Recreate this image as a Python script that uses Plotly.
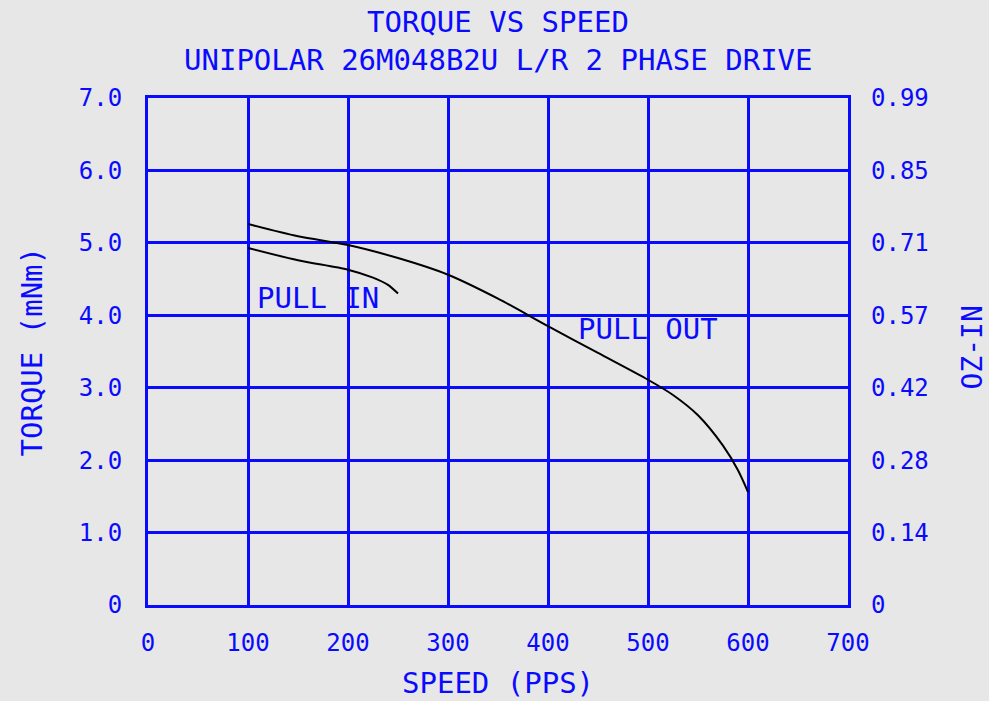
import plotly.graph_objects as go

# Data
pull_out_speed = [100, 150, 200, 250, 300, 350, 400, 450, 500, 525, 550, 575, 590, 600]
pull_out_torque = [5.26, 5.09, 4.97, 4.79, 4.56, 4.23, 3.85, 3.48, 3.11, 2.90, 2.62, 2.20, 1.86, 1.56]

pull_in_speed = [100, 150, 200, 225, 240, 250]
pull_in_torque = [4.93, 4.76, 4.63, 4.52, 4.42, 4.30]

x_ticks = [0, 100, 200, 300, 400, 500, 600, 700]
y_ticks = [0, 1, 2, 3, 4, 5, 6, 7]
y_ticklabels = ["0", "1.0", "2.0", "3.0", "4.0", "5.0", "6.0", "7.0"]
oz_ticklabels = ["0", "0.14", "0.28", "0.42", "0.57", "0.71", "0.85", "0.99"]

BLUE = "#0a0aff"
BG = "#e7e7e7"
FONT = "DejaVu Sans Mono"

fig = go.Figure()
fig.add_trace(go.Scatter(x=pull_out_speed, y=pull_out_torque, mode="lines",
                         line=dict(color="black", width=2, shape="spline", smoothing=0.8),
                         showlegend=False, hoverinfo="skip"))
fig.add_trace(go.Scatter(x=pull_in_speed, y=pull_in_torque, mode="lines",
                         line=dict(color="black", width=2, shape="spline", smoothing=0.8),
                         showlegend=False, hoverinfo="skip"))
# invisible trace to activate the right axis
fig.add_trace(go.Scatter(x=[0], y=[0], yaxis="y2", mode="markers",
                         marker=dict(opacity=0), showlegend=False, hoverinfo="skip"))

txt_font = dict(family=FONT, size=29, color=BLUE)

fig.add_annotation(x=170, y=4.24, text="PULL IN", showarrow=False, font=txt_font)
fig.add_annotation(x=500, y=3.81, text="PULL OUT", showarrow=False, font=txt_font)

fig.add_annotation(x=0.5, y=1, xref="paper", yref="paper", yanchor="middle",
                   xanchor="center", yshift=76,
                   text="TORQUE VS SPEED", showarrow=False, font=txt_font)
fig.add_annotation(x=0.5, y=1, xref="paper", yref="paper", yanchor="middle",
                   xanchor="center", yshift=38,
                   text="UNIPOLAR 26M048B2U L/R 2 PHASE DRIVE", showarrow=False,
                   font=txt_font)

# axis titles
fig.add_annotation(x=0.5, y=0, xref="paper", yref="paper", yanchor="middle",
                   xanchor="center", yshift=-78, text="SPEED (PPS)",
                   showarrow=False, font=txt_font)
fig.add_annotation(x=0, y=0.5, xref="paper", yref="paper", yanchor="middle",
                   xanchor="center", xshift=-117, textangle=-90, text="TORQUE (mNm)",
                   showarrow=False, font=dict(family=FONT, size=29, color=BLUE))
fig.add_annotation(x=1, y=0.5, xref="paper", yref="paper", yanchor="middle",
                   xanchor="center", xshift=124, yshift=4, textangle=-90, text="OZ-IN",
                   showarrow=False, font=dict(family=FONT, size=28, color=BLUE))

tick_font = dict(family=FONT, size=24, color=BLUE)
axis_common = dict(showgrid=True, gridcolor=BLUE, gridwidth=2.5, zeroline=False,
                   showline=True, linecolor=BLUE, linewidth=3,
                   tickfont=tick_font, ticks="")

fig.update_layout(
    width=989, height=701,
    margin=dict(l=148, r=141, t=98, b=96),
    paper_bgcolor=BG, plot_bgcolor=BG,
    xaxis=dict(range=[0, 700], tickvals=x_ticks, ticktext=[str(v) for v in x_ticks],
               mirror=True, ticklabelstandoff=14, **axis_common),
    yaxis=dict(range=[0, 7], tickvals=y_ticks, ticktext=y_ticklabels,
               mirror=True, ticklabelstandoff=18, **axis_common),
    yaxis2=dict(range=[0, 7], tickvals=y_ticks, ticktext=oz_ticklabels,
                overlaying="y", side="right", showgrid=False, zeroline=False,
                showline=False, ticks="", ticklabelstandoff=22,
                tickfont=tick_font),
)

fig.write_html("out.html", config={"displayModeBar": False},
               post_script="document.body.style.margin='0';document.body.style.background='%s';" % BG)
